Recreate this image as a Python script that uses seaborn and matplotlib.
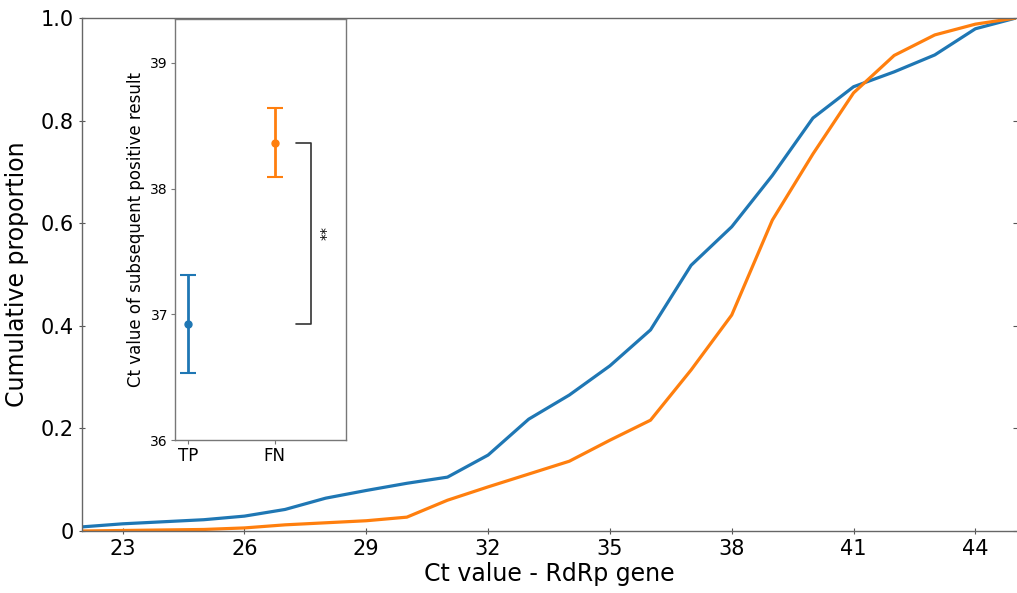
import matplotlib
matplotlib.use("Agg")
import matplotlib.pyplot as plt
import seaborn as sns
import pandas as pd
import numpy as np

# ---- data ----
ct_values = list(range(22, 46))
tp_cum = [0.008, 0.014, 0.018, 0.022, 0.029, 0.042, 0.064, 0.079, 0.093, 0.105,
          0.148, 0.218, 0.265, 0.322, 0.392, 0.518, 0.593, 0.693, 0.805, 0.866,
          0.895, 0.928, 0.979, 1.0]
fn_cum = [0.0, 0.001, 0.002, 0.003, 0.006, 0.012, 0.016, 0.020, 0.027, 0.060,
          0.086, 0.111, 0.136, 0.177, 0.216, 0.314, 0.421, 0.606, 0.735, 0.854,
          0.927, 0.967, 0.988, 1.0]
groups = ["TP", "FN"]
group_means = [36.92, 38.36]
group_low = [36.53, 38.09]
group_high = [37.31, 38.64]
sig_label = "**"

blue = "#1f77b4"
orange = "#ff7f0e"

sns.set_style("white", {"xtick.bottom": True, "ytick.left": True,
                        "text.color": "black", "axes.labelcolor": "black",
                        "xtick.color": "#555555", "ytick.color": "#555555"})
plt.rcParams["font.family"] = ["DejaVu Sans"]

df = pd.DataFrame({
    "ct": ct_values * 2,
    "prop": tp_cum + fn_cum,
    "group": ["TP"] * len(ct_values) + ["FN"] * len(ct_values),
})

fig = plt.figure(figsize=(10.17, 5.93), dpi=100)
ax = fig.add_axes([82 / 1017, (593 - 531) / 593, (1017 - 82) / 1017 - 0.001, 513 / 593])
sns.lineplot(data=df, x="ct", y="prop", hue="group", palette={"TP": blue, "FN": orange},
             linewidth=2.3, legend=False, ax=ax)
ax.set_xlim(22, 45)
ax.set_ylim(0, 1.0)
ax.set_xticks([23, 26, 29, 32, 35, 38, 41, 44])
ax.set_yticks([0, 0.2, 0.4, 0.6, 0.8, 1.0])
ax.set_yticklabels(["0", "0.2", "0.4", "0.6", "0.8", "1.0"])
ax.set_xlabel("Ct value - RdRp gene", fontsize=17, labelpad=2, color="black")
ax.set_ylabel("Cumulative proportion", fontsize=17, labelpad=8, color="black")
ax.tick_params(axis="both", labelsize=15, length=4, width=0.8, color="#555555",
               labelcolor="black", pad=4, direction="inout", bottom=True, left=True)
ax.tick_params(axis="y", right=True)
for s in ["left", "bottom", "top"]:
    ax.spines[s].set_color("#666666")
    ax.spines[s].set_linewidth(1.0)
ax.spines["right"].set_visible(False)

# ---- inset ----
ins = fig.add_axes([175 / 1017, (593 - 440) / 593, 171 / 1017, 421 / 593])
for i, g in enumerate(groups):
    c = blue if g == "TP" else orange
    ins.errorbar([i], [group_means[i]],
                 yerr=[[group_means[i] - group_low[i]], [group_high[i] - group_means[i]]],
                 fmt="o", color=c, markersize=5, elinewidth=2, capsize=6, capthick=1.5)
ins.set_xlim(-0.15, 1.82)
ins.set_ylim(36, 39.35)
ins.set_xticks([0, 1])
ins.set_xticklabels(groups, fontsize=12)
ins.set_yticks([36, 37, 38, 39])
ins.tick_params(axis="y", labelsize=10, length=3, color="#777777", labelcolor="black",
                pad=2, left=True)
ins.tick_params(axis="x", length=3, color="#777777", labelcolor="black", pad=2, bottom=True)
ins.set_ylabel("Ct value of subsequent positive result", fontsize=12, labelpad=4, color="black")
for s in ins.spines.values():
    s.set_color("#777777")
    s.set_linewidth(1.0)
ins.plot([1.24, 1.42, 1.42, 1.24], [group_means[1], group_means[1], group_means[0], group_means[0]],
         color="#333333", linewidth=1.2)
ins.text(1.52, (group_means[0] + group_means[1]) / 2, sig_label, rotation=270,
         ha="center", va="center", fontsize=10, color="black")

fig.savefig("out.png", dpi=100)
